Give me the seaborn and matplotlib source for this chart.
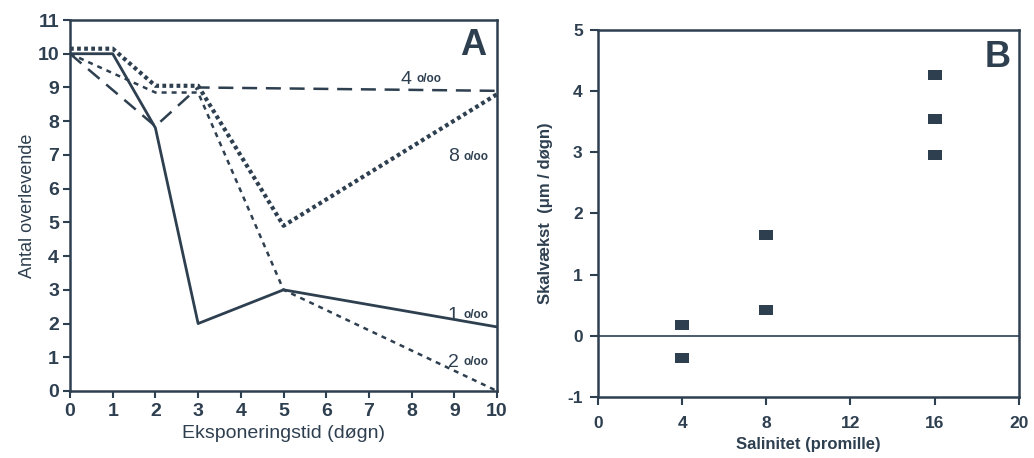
import matplotlib
matplotlib.use('Agg')
import matplotlib.pyplot as plt
import seaborn as sns

# Panel A: overlevende per salinitet
days_1 = [0, 1, 2, 3, 5, 10]
surv_1 = [10, 10, 7.8, 2, 3, 1.9]
days_2 = [0, 2, 3, 5, 10]
surv_2 = [10, 8.85, 8.85, 3, 0]
days_4 = [0, 2, 3, 10]
surv_4 = [10, 7.85, 9, 8.9]
days_8 = [0, 1, 2, 3, 5, 10]
surv_8 = [10.15, 10.15, 9.05, 9.05, 4.9, 8.8]

# Panel B: skalvækst
salinity = [4, 4, 8, 8, 16, 16, 16]
growth = [0.18, -0.37, 1.65, 0.43, 4.27, 3.55, 2.95]

ink = '#2e3f50'

sns.set_style('white')
plt.rcParams['font.family'] = ['Liberation Sans', 'DejaVu Sans']
plt.rcParams['axes.unicode_minus'] = False
plt.rcParams['text.color'] = ink
plt.rcParams['axes.labelcolor'] = ink
plt.rcParams['xtick.color'] = ink
plt.rcParams['ytick.color'] = ink
plt.rcParams['axes.edgecolor'] = ink

fig = plt.figure(figsize=(10.34, 4.58), dpi=100)
axA = fig.add_axes([0.0677, 0.1463, 0.413, 0.81])
axB = fig.add_axes([0.5783, 0.1332, 0.407, 0.8013])

sns.lineplot(x=days_1, y=surv_1, ax=axA, color=ink, linewidth=2)
sns.lineplot(x=days_2, y=surv_2, ax=axA, color=ink, linewidth=1.8, linestyle=(0, (2, 2)))
sns.lineplot(x=days_4, y=surv_4, ax=axA, color=ink, linewidth=1.8, linestyle=(0, (6, 3.5)))
sns.lineplot(x=days_8, y=surv_8, ax=axA, color=ink, linewidth=3, linestyle=(0, (0.9, 0.8)))

for lx, ly, num in [(8.0, 9.25, '4'), (9.1, 6.95, '8'), (9.1, 2.25, '1'), (9.1, 0.85, '2')]:
    axA.text(lx, ly, num, fontsize=14, ha='right', va='center')
    axA.text(lx + 0.12, ly, 'o/oo', fontsize=8.5, fontweight='bold', ha='left', va='center')
axA.text(9.75, 10.25, 'A', fontsize=26, fontweight='bold', ha='right', va='center')

axA.set_xlim(0, 10)
axA.set_ylim(0, 11)
axA.set_xticks(range(0, 11))
axA.set_yticks(range(0, 12))
axA.tick_params(direction='out', length=5, width=1.5, labelsize=14, pad=3,
                bottom=True, left=True)
axA.tick_params(axis='x', pad=4)
for lab in axA.get_xticklabels() + axA.get_yticklabels():
    lab.set_fontweight('bold')
axA.set_xlabel('Eksponeringstid (døgn)', fontsize=14, labelpad=3)
axA.set_ylabel('Antal overlevende', fontsize=13, labelpad=1)
for s in axA.spines.values():
    s.set_linewidth(1.8)

box = [(-1.5, -1), (1.5, -1), (1.5, 1), (-1.5, 1)]
sns.scatterplot(x=salinity, y=growth, ax=axB, color=ink, marker=box, s=100,
                edgecolor=ink, linewidth=0)
axB.axhline(0, color=ink, linewidth=1.2)
axB.text(19.6, 4.55, 'B', fontsize=26, fontweight='bold', ha='right', va='center')

axB.set_xlim(0, 20)
axB.set_ylim(-1, 5)
axB.set_xticks(range(0, 21, 4))
axB.set_yticks(range(-1, 6))
axB.tick_params(direction='out', length=6, width=1.5, labelsize=12.5, pad=5,
                bottom=True, left=True)
axB.tick_params(axis='x', pad=8)
for lab in axB.get_xticklabels() + axB.get_yticklabels():
    lab.set_fontweight('bold')
axB.set_xlabel('Salinitet (promille)', fontsize=12, fontweight='bold', labelpad=4)
axB.set_ylabel('Skalvækst  (μm / døgn)', fontsize=12, fontweight='bold', labelpad=10)
for s in axB.spines.values():
    s.set_linewidth(1.8)

plt.savefig('out.png', dpi=100)
